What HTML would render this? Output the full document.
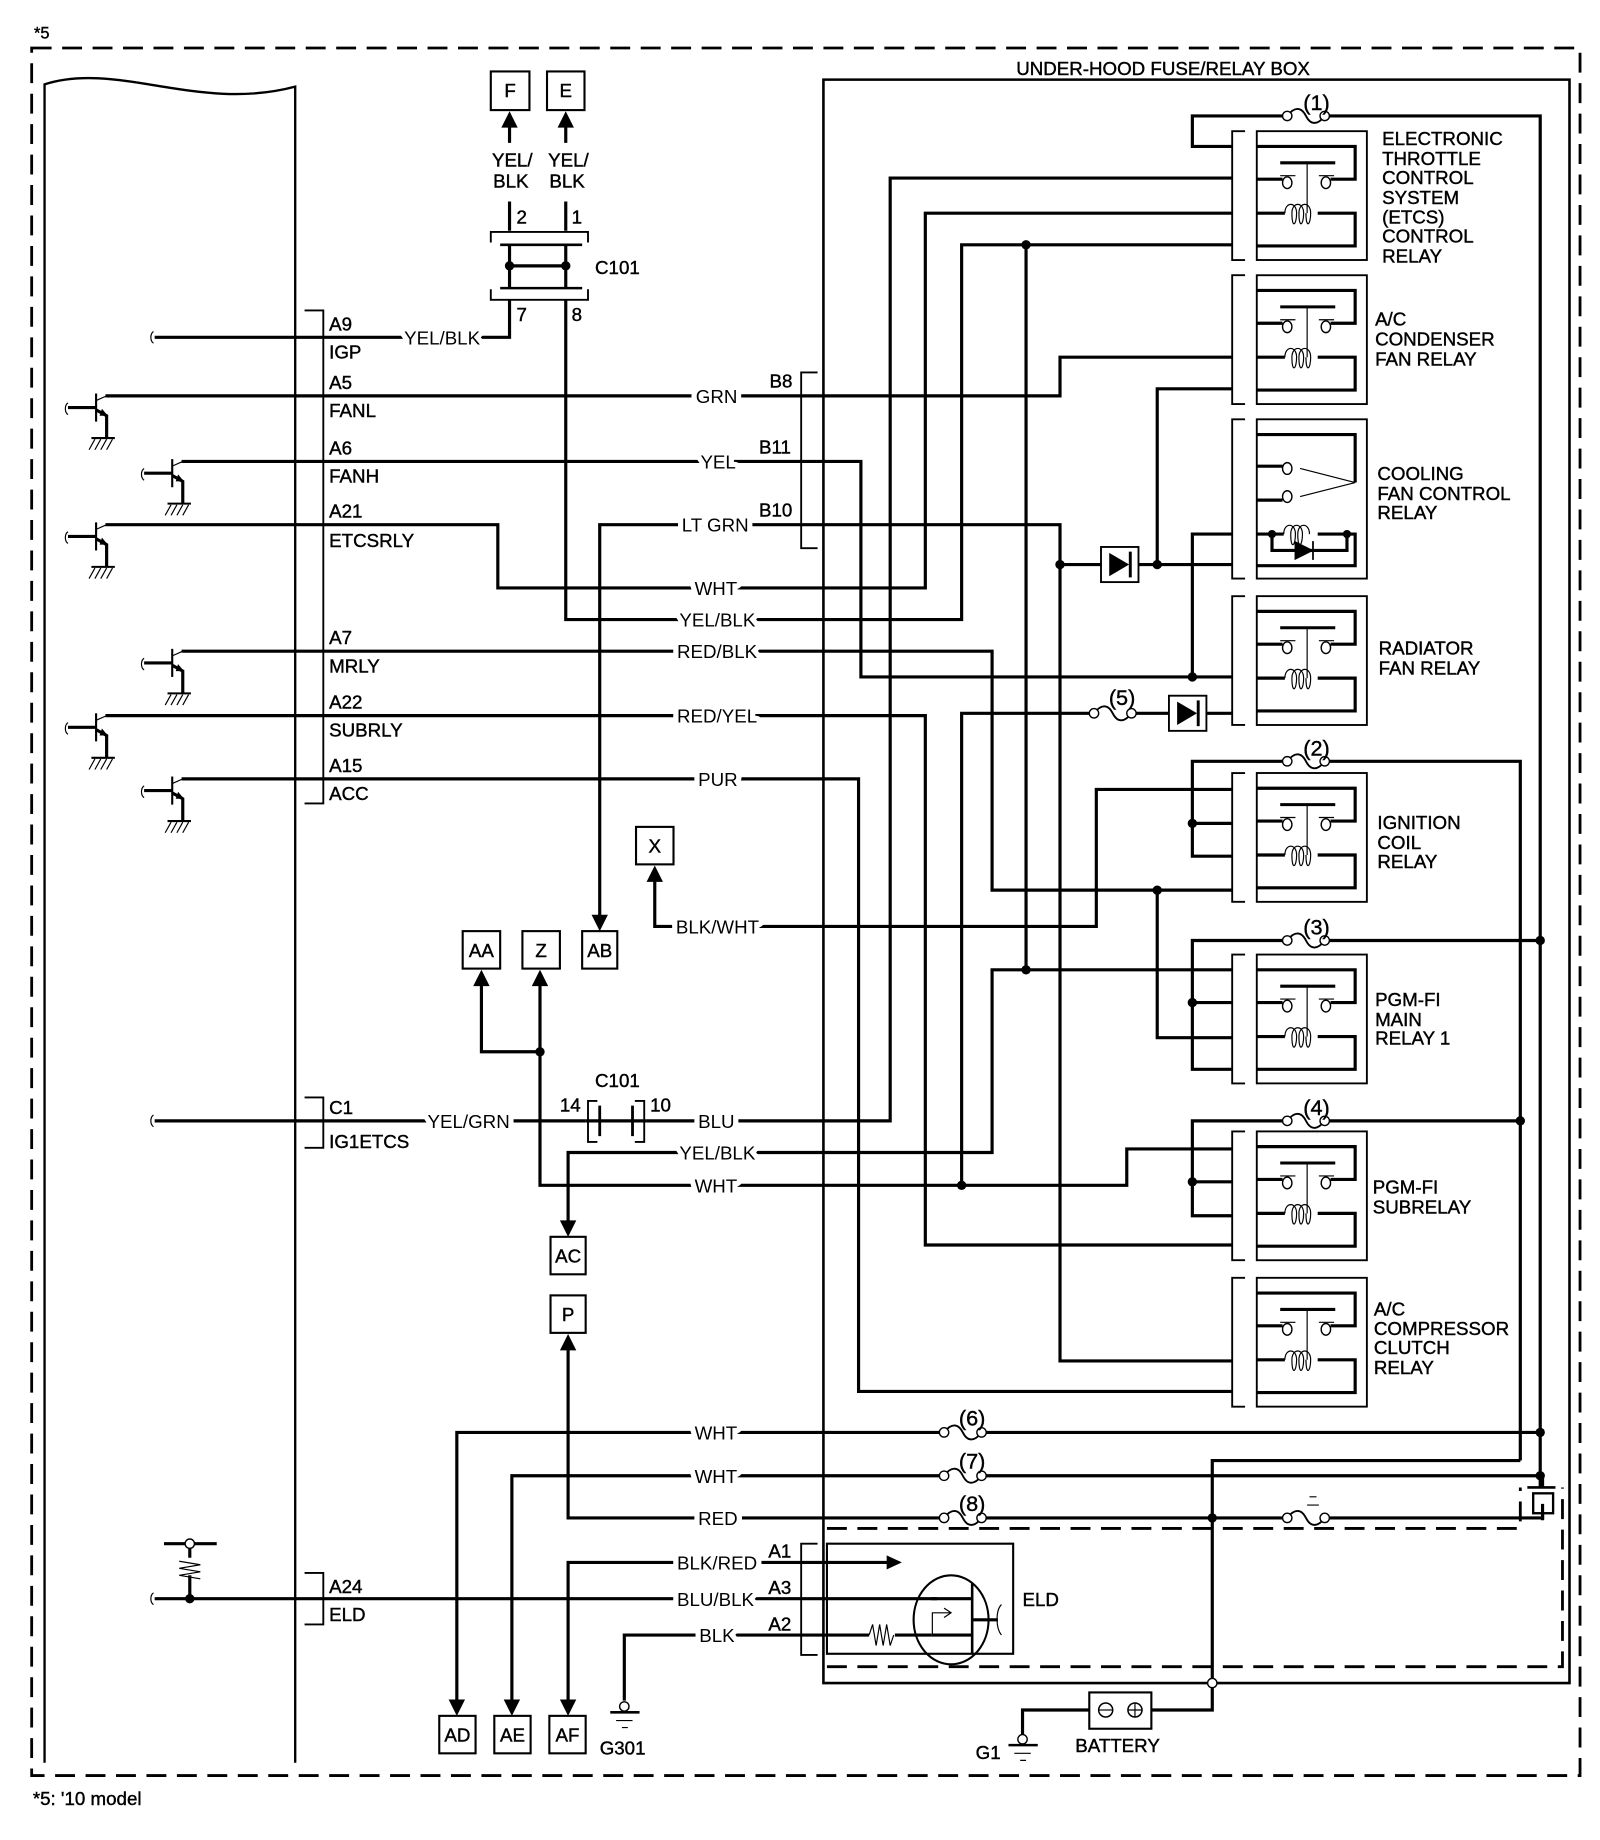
<!DOCTYPE html>
<html><head><meta charset="utf-8"><style>
html,body{margin:0;padding:0;background:#fff;}
svg{display:block;}
text{font-family:"Liberation Sans",Arial,sans-serif;font-size:16px;fill:#000;stroke:#000;stroke-width:0.35;}
.lb{stroke:#fff;stroke-width:9;paint-order:stroke;stroke-linejoin:round;}
.w{fill:none;stroke:#000;stroke-width:2.7;stroke-linejoin:miter;}
.t{fill:none;stroke:#000;stroke-width:1.6;}
.th{fill:none;stroke:#000;stroke-width:1;}
.d{fill:none;stroke:#000;stroke-width:2.4;stroke-dasharray:17 9;}
</style></head><body>
<svg width="1600" height="1840" viewBox="0 0 1366 1571" xmlns="http://www.w3.org/2000/svg">
<defs>
<g id="relay">
<path class="t" d="M1063,0 H1052 V110 H1063"/>
<rect x="1073" y="0" width="94" height="110" class="t"/>
<path class="w" d="M1073,13 H1157 V41 H1136 M1073,41 H1095"/>
<ellipse cx="1099" cy="44" rx="4" ry="5" fill="#fff" stroke="#000" stroke-width="1.2"/>
<ellipse cx="1132" cy="44" rx="4" ry="5" fill="#fff" stroke="#000" stroke-width="1.2"/>
<path class="th" d="M1093,38 H1106 M1126,38 H1139 M1116,27 V70"/>
<path d="M1093,27 H1140" stroke="#000" stroke-width="2.6"/>
<path class="w" d="M1073,70 H1097 M1125,70 H1157 V98 H1073"/>
<path class="th" d="M1097,70 c0,-10 10,-10 10,0 c0,10 -4,14 -4,0 c0,-10 10,-10 10,0 c0,10 -4,14 -4,0 c0,-10 10,-10 10,0 c0,10 -4,14 -4,0"/>
</g>
<g id="fuse">
<path d="M4,0 H36" stroke="#fff" stroke-width="5"/>
<path d="M4,0 C10,-8 16,-8 20,0 C24,8 30,8 36,0" fill="none" stroke="#000" stroke-width="1.6"/>
<circle cx="4" cy="0" r="4" fill="#fff" stroke="#000" stroke-width="1.2"/>
<circle cx="36" cy="0" r="4" fill="#fff" stroke="#000" stroke-width="1.2"/>
</g>
<g id="tr">
<path d="M0,-2 V22" stroke="#000" stroke-width="1.8"/>
<path d="M0,4 L9,0" class="th"/>
<path d="M-24,10 H0" stroke="#000" stroke-width="2.7"/>
<path d="M-24,6 c-3,2 -3,8 0,10" class="th"/>
<path d="M0,12 L9,17 V36" class="w"/>
<path d="M5,11 L10,17 L3,17 Z"/>
<path d="M-4,36 H16" stroke="#000" stroke-width="1.8"/>
<path d="M-1,37 l-5,9 M4,37 l-5,9 M9,37 l-5,9 M14,37 l-5,9" class="th"/>
</g>
</defs>

<text x="29" y="33" style="font-size:14px">*5</text>
<rect x="27" y="41" width="1322" height="1475" class="d"/>
<text x="28" y="1541">*5: '10 model</text>

<path d="M38,1505 V72 C100,52 170,96 252,74 V1505" fill="none" stroke="#000" stroke-width="2"/>
<path class="t" d="M260,265 H276 V686 H260"/>
<path class="t" d="M260,937 H276 V980 H260"/>
<path class="t" d="M260,1343 H276 V1387 H260"/>
<use href="#tr" x="82" y="338"/>
<use href="#tr" x="147" y="394"/>
<use href="#tr" x="82" y="448"/>
<use href="#tr" x="147" y="556"/>
<use href="#tr" x="82" y="611"/>
<use href="#tr" x="147" y="665"/>
<path d="M131,283 c-3,2 -3,8 0,10 M131,952 c-3,2 -3,8 0,10 M131,1360 c-3,2 -3,8 0,10" class="th"/>

<path d="M703,68 H1340 V1437 H703 Z" fill="none" stroke="#000" stroke-width="2.2"/>
<path class="d" d="M706,1305 H1298 V1270 M706,1423 H1334 V1270"/>
<text x="993" y="64" text-anchor="middle">UNDER-HOOD FUSE/RELAY BOX</text>

<path class="w" d="M132,288 H435 V256"/>
<path class="w" d="M90,338 H905 V305 H1052"/>
<path class="w" d="M155,394 H735 V578 H1052"/>
<path class="w" d="M90,448 H425 V502 H790 V182 H1052"/>
<path class="w" d="M512,783 V448 H905 V1162 H1052"/>
<path class="w" d="M483,256 V529 H821 V209 H1052"/>
<path class="w" d="M155,556 H847 V760 H1052"/>
<path class="w" d="M90,611 H790 V1063 H1052"/>
<path class="w" d="M155,665 H733 V1188 H1052"/>
<path class="w" d="M559,752 V791 H936 V674 H1052"/>
<path class="w" d="M132,957 H760 V152 H1052"/>
<path class="w" d="M411,840 V898 H461 M461,840 V1012 H962 V981 H1052"/>
<path class="w" d="M485,1044 V984 H847 V828 H1052"/>
<path class="w" d="M435,197 V172 M483,197 V172 M435,122 V107 M483,122 V107"/>

<path class="w" d="M1052,125 H1018 V99 H1315 V1270"/>
<path class="w" d="M1052,332 H988 V482 M905,482 H1052"/>
<path class="w" d="M1052,456 H1018 V578"/>
<path class="w" d="M1052,609 H821 V1012"/>
<path class="w" d="M1298,1247 V650 H1018 V731 H1052 M1018,703 H1052"/>
<path class="w" d="M1315,803 H1018 V913 H1052 M1018,856 H1052"/>
<path class="w" d="M988,760 V886 H1052"/>
<path class="w" d="M876,209 V828"/>
<path class="w" d="M1298,957 H1018 V1038 H1052 M1018,1009 H1052"/>
<path class="w" d="M1298,1247 H1035 V1437"/>
<path class="w" d="M390,1452 V1223 H1315 M437,1452 V1260 H1315 M485,1152 V1296 H1317 V1290"/>
<path class="w" d="M485,1452 V1334 H760 M132,1365 H800 M533,1452 V1396 H742 M764,1396 H795"/>
<path class="w" d="M1035,1437 V1460 H983 M930,1460 H873 V1482"/>

<path class="w" d="M162,1365 V1345 M162,1330 V1318 M140,1318 H185"/>
<path class="th" d="M153,1333 l18,3 l-18,3 l18,3 l-18,3 l18,3"/>
<circle cx="162" cy="1318" r="4" fill="#fff" stroke="#000" stroke-width="1.2"/>

<g fill="#000">
<circle cx="162" cy="1365" r="4"/>
<circle cx="435" cy="227" r="4"/><circle cx="483" cy="227" r="4"/>
<circle cx="461" cy="898" r="4"/>
<circle cx="876" cy="209" r="4"/><circle cx="905" cy="482" r="4"/><circle cx="988" cy="482" r="4"/>
<circle cx="1018" cy="578" r="4"/><circle cx="1018" cy="703" r="4"/><circle cx="988" cy="760" r="4"/>
<circle cx="876" cy="828" r="4"/><circle cx="1018" cy="856" r="4"/><circle cx="1315" cy="803" r="4"/>
<circle cx="1298" cy="957" r="4"/><circle cx="1018" cy="1009" r="4"/><circle cx="821" cy="1012" r="4"/>
<circle cx="1315" cy="1223" r="4"/><circle cx="1315" cy="1260" r="4"/><circle cx="1035" cy="1296" r="4"/>
</g>
<circle cx="1035" cy="1437" r="4" fill="#fff" stroke="#000" stroke-width="1.2"/>

<path class="t" d="M419,207 V198 H502 V207 M419,247 V256 H502 V247"/>
<path d="M427,209 H497 M427,246 H497" stroke="#000" stroke-width="2.2"/>
<path class="w" d="M435,209 V246 M483,209 V246 M435,227 H483"/>
<text x="508" y="234">C101</text>
<text x="441" y="191">2</text><text x="488" y="191">1</text>
<text x="441" y="274">7</text><text x="488" y="274">8</text>
<text x="420" y="142">YEL/</text><text x="421" y="160">BLK</text>
<text x="468" y="142">YEL/</text><text x="469" y="160">BLK</text>

<rect x="500" y="938" width="52" height="38" fill="#fff" stroke="none"/>
<path class="t" d="M510,940 H502 V975 H510 M542,940 H550 V975 H542"/>
<path d="M512,944 V970 M540,944 V970" stroke="#000" stroke-width="2.4"/>
<path class="w" d="M500,957 H552"/>
<text x="508" y="928">C101</text><text x="478" y="949">14</text><text x="555" y="949">10</text>

<path class="t" d="M698,318 H684 V468 H698"/>
<text x="657" y="331">B8</text><text x="648" y="387">B11</text><text x="648" y="441">B10</text>
<path class="t" d="M698,1318 H684 V1413 H698"/>
<text x="656" y="1330">A1</text><text x="656" y="1361">A3</text><text x="656" y="1392">A2</text>

<g>
<text x="281" y="282">A9</text><text x="281" y="306">IGP</text>
<text x="281" y="332">A5</text><text x="281" y="356">FANL</text>
<text x="281" y="388">A6</text><text x="281" y="412">FANH</text>
<text x="281" y="442">A21</text><text x="281" y="467">ETCSRLY</text>
<text x="281" y="550">A7</text><text x="281" y="574">MRLY</text>
<text x="281" y="605">A22</text><text x="281" y="629">SUBRLY</text>
<text x="281" y="659">A15</text><text x="281" y="683">ACC</text>
<text x="281" y="951">C1</text><text x="281" y="980">IG1ETCS</text>
<text x="281" y="1360">A24</text><text x="281" y="1384">ELD</text>
</g>
<g>
<text class="lb" x="345" y="294">YEL/BLK</text>
<text class="lb" x="594" y="344">GRN</text>
<text class="lb" x="598" y="400">YEL</text>
<text class="lb" x="582" y="454">LT GRN</text>
<text class="lb" x="593" y="508">WHT</text>
<text class="lb" x="580" y="535">YEL/BLK</text>
<text class="lb" x="578" y="562">RED/BLK</text>
<text class="lb" x="578" y="617">RED/YEL</text>
<text class="lb" x="596" y="671">PUR</text>
<text class="lb" x="577" y="797">BLK/WHT</text>
<text class="lb" x="365" y="963">YEL/GRN</text>
<text class="lb" x="596" y="963">BLU</text>
<text class="lb" x="580" y="990">YEL/BLK</text>
<text class="lb" x="593" y="1018">WHT</text>
<text class="lb" x="593" y="1229">WHT</text>
<text class="lb" x="593" y="1266">WHT</text>
<text class="lb" x="596" y="1302">RED</text>
<text class="lb" x="578" y="1340">BLK/RED</text>
<text class="lb" x="578" y="1371">BLU/BLK</text>
<text class="lb" x="597" y="1402">BLK</text>
</g>

<g fill="#fff" stroke="#000" stroke-width="1.8">
<rect x="419" y="61" width="33" height="33"/><rect x="467" y="61" width="32" height="33"/>
<rect x="543" y="706" width="32" height="32"/>
<rect x="395" y="795" width="32" height="32"/><rect x="446" y="795" width="32" height="32"/><rect x="497" y="795" width="30" height="32"/>
<rect x="470" y="1056" width="30" height="32"/><rect x="470" y="1106" width="30" height="32"/>
<rect x="375" y="1465" width="31" height="32"/><rect x="422" y="1465" width="31" height="32"/><rect x="469" y="1465" width="31" height="32"/>
</g>
<g text-anchor="middle">
<text x="435.5" y="83">F</text><text x="483" y="83">E</text><text x="559" y="728">X</text>
<text x="411" y="817">AA</text><text x="462" y="817">Z</text><text x="512" y="817">AB</text>
<text x="485" y="1078">AC</text><text x="485" y="1128">P</text>
<text x="390.5" y="1487">AD</text><text x="437.5" y="1487">AE</text><text x="484.5" y="1487">AF</text>
</g>
<g fill="#000">
<path d="M435,95 l-7,14 h14 Z"/><path d="M483,95 l-7,14 h14 Z"/>
<path d="M559,739 l-7,14 h14 Z"/>
<path d="M411,828 l-7,14 h14 Z"/><path d="M461,828 l-7,14 h14 Z"/>
<path d="M512,795 l-7,-14 h14 Z"/>
<path d="M485,1056 l-7,-14 h14 Z"/><path d="M485,1139 l-7,14 h14 Z"/>
<path d="M390,1465 l-7,-14 h14 Z"/><path d="M437,1465 l-7,-14 h14 Z"/><path d="M485,1465 l-7,-14 h14 Z"/>
<path d="M770,1334 l-13,-6 v12 Z"/>
</g>

<use href="#relay" x="0" y="112"/>
<use href="#relay" x="0" y="235"/>
<use href="#relay" x="0" y="509"/>
<use href="#relay" x="0" y="660"/>
<use href="#relay" x="0" y="815"/>
<use href="#relay" x="0" y="966"/>
<use href="#relay" x="0" y="1091"/>
<path class="t" d="M1063,358 H1052 V494 H1063"/>
<rect x="1073" y="358" width="94" height="136" class="t"/>
<path class="w" d="M1073,371 H1157 V412 M1073,398 H1095 M1073,427 H1095"/>
<path class="th" d="M1157,412 L1110,400 M1157,412 L1110,424"/>
<ellipse cx="1099" cy="400" rx="4" ry="5" fill="#fff" stroke="#000" stroke-width="1.2"/>
<ellipse cx="1099" cy="424" rx="4" ry="5" fill="#fff" stroke="#000" stroke-width="1.2"/>
<path class="w" d="M1073,456 H1096 M1125,456 H1157 V483 H1073 M1086,456 V470 H1150 V456"/>
<path class="th" d="M1096,456 c0,-10 10,-10 10,0 c0,10 -4,14 -4,0 c0,-10 10,-10 10,0 c0,10 -4,14 -4,0 c0,-10 10,-10 10,0"/>
<path d="M1106,463 L1120,470 L1106,477 Z M1121,462 V478" fill="#000" stroke="#000" stroke-width="1.5"/>
<circle cx="1086" cy="456" r="3.5"/><circle cx="1150" cy="456" r="3.5"/>

<g>
<text x="1180" y="124">ELECTRONIC</text><text x="1180" y="141">THROTTLE</text><text x="1180" y="157">CONTROL</text><text x="1180" y="174">SYSTEM</text><text x="1180" y="191">(ETCS)</text><text x="1180" y="207">CONTROL</text><text x="1180" y="224">RELAY</text>
<text x="1174" y="278">A/C</text><text x="1174" y="295">CONDENSER</text><text x="1174" y="312">FAN RELAY</text>
<text x="1176" y="410">COOLING</text><text x="1176" y="427">FAN CONTROL</text><text x="1176" y="443">RELAY</text>
<text x="1177" y="559">RADIATOR</text><text x="1177" y="576">FAN RELAY</text>
<text x="1176" y="708">IGNITION</text><text x="1176" y="725">COIL</text><text x="1176" y="741">RELAY</text>
<text x="1174" y="859">PGM-FI</text><text x="1174" y="876">MAIN</text><text x="1174" y="892">RELAY 1</text>
<text x="1172" y="1019">PGM-FI</text><text x="1172" y="1036">SUBRELAY</text>
<text x="1173" y="1123">A/C</text><text x="1173" y="1140">COMPRESSOR</text><text x="1173" y="1156">CLUTCH</text><text x="1173" y="1173">RELAY</text>
</g>

<rect x="940" y="467" width="32" height="30" fill="#fff" stroke="#000" stroke-width="1.6"/>
<path d="M947,472 L964,482 L947,492 Z" fill="#000"/><path d="M965,471 V493" stroke="#000" stroke-width="2.5"/>
<rect x="998" y="594" width="32" height="30" fill="#fff" stroke="#000" stroke-width="1.6"/>
<path d="M1005,599 L1022,609 L1005,619 Z" fill="#000"/><path d="M1023,598 V620" stroke="#000" stroke-width="2.5"/>

<use href="#fuse" x="1095" y="99"/><text x="1124" y="94" text-anchor="middle" style="font-size:18.5px">(1)</text>
<use href="#fuse" x="1095" y="650"/><text x="1124" y="645" text-anchor="middle" style="font-size:18.5px">(2)</text>
<use href="#fuse" x="1095" y="803"/><text x="1124" y="798" text-anchor="middle" style="font-size:18.5px">(3)</text>
<use href="#fuse" x="1095" y="957"/><text x="1124" y="952" text-anchor="middle" style="font-size:18.5px">(4)</text>
<use href="#fuse" x="930" y="609"/><text x="958" y="602" text-anchor="middle" style="font-size:18.5px">(5)</text>
<use href="#fuse" x="802" y="1223"/><text x="830" y="1217" text-anchor="middle" style="font-size:18.5px">(6)</text>
<use href="#fuse" x="802" y="1260"/><text x="830" y="1254" text-anchor="middle" style="font-size:18.5px">(7)</text>
<use href="#fuse" x="802" y="1296"/><text x="830" y="1290" text-anchor="middle" style="font-size:18.5px">(8)</text>
<use href="#fuse" x="1095" y="1296"/><path class="th" d="M1118,1278 h6 M1116,1285 h10"/>

<path d="M1304,1270 H1328" stroke="#000" stroke-width="2.2"/>
<rect x="1309" y="1275" width="17" height="17" fill="#fff" stroke="#000" stroke-width="2"/>
<path class="w" d="M1317,1262 V1270 M1317,1284 V1298"/>

<rect x="706" y="1318" width="159" height="94" fill="none" stroke="#000" stroke-width="1.8"/>
<ellipse cx="812" cy="1383" rx="32" ry="38" fill="none" stroke="#000" stroke-width="1.8"/>
<path d="M830,1352 V1412" stroke="#000" stroke-width="2.2"/>
<path class="w" d="M795,1365 H830 M795,1396 H830 M830,1383 H852"/>
<path class="th" d="M796,1396 V1377 H812 M806,1373 L812,1377 L806,1381"/>
<path class="th" d="M742,1396 l3,-9 l3,18 l3,-18 l3,18 l3,-18 l3,18 l3,-9"/>
<path class="th" d="M855,1370 c-5,5 -5,20 0,26"/>
<text x="873" y="1371">ELD</text>

<circle cx="533" cy="1457" r="4" fill="#fff" stroke="#000" stroke-width="1.2"/>
<path d="M521,1462 H546" stroke="#000" stroke-width="2.2"/><path class="th" d="M526,1469 H540 M531,1475 H536"/>
<text x="512" y="1498">G301</text>
<rect x="930" y="1445" width="53" height="31" fill="#fff" stroke="#000" stroke-width="1.8"/>
<circle cx="944" cy="1460" r="6" fill="none" stroke="#000" stroke-width="1.3"/><path class="th" d="M938,1460 H950"/>
<circle cx="969" cy="1460" r="6" fill="none" stroke="#000" stroke-width="1.3"/><path class="th" d="M963,1460 H975 M969,1454 V1466"/>
<text x="918" y="1496">BATTERY</text>
<circle cx="873" cy="1485" r="4" fill="#fff" stroke="#000" stroke-width="1.2"/>
<path d="M861,1490 H886" stroke="#000" stroke-width="2.2"/><path class="th" d="M866,1497 H880 M871,1503 H876"/>
<text x="833" y="1502">G1</text>
</svg>
</body></html>
